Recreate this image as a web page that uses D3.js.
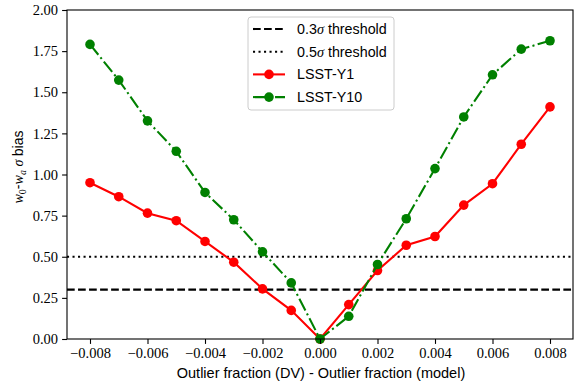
<!DOCTYPE html>
<html>
<head>
<meta charset="utf-8">
<script src="https://cdn.jsdelivr.net/npm/d3@7"></script>
<style>
  body { margin: 0; background: #fff; }
  svg text { fill: #000; }
  .tick text { font-family: "Liberation Serif", serif; font-size: 14.5px; }
</style>
</head>
<body>
<svg id="chart" width="574" height="385"></svg>
<script>
const xs = [-0.008, -0.007, -0.006, -0.005, -0.004, -0.003, -0.002, -0.001, 0,
            0.001, 0.002, 0.003, 0.004, 0.005, 0.006, 0.007, 0.008];
const y1 = [0.950, 0.865, 0.765, 0.719, 0.593, 0.467, 0.305, 0.174, 0.0,
            0.209, 0.416, 0.570, 0.623, 0.814, 0.944, 1.184, 1.411];
const y10 = [1.791, 1.574, 1.326, 1.141, 0.891, 0.725, 0.530, 0.341, 0.0,
             0.138, 0.453, 0.731, 1.036, 1.350, 1.606, 1.762, 1.813];
const thresholds = [0.3, 0.5];
const xTicks = [-0.008, -0.006, -0.004, -0.002, 0, 0.002, 0.004, 0.006, 0.008];
const yTicks = [0, 0.25, 0.5, 0.75, 1.0, 1.25, 1.5, 1.75, 2.0];

const margin = { top: 10, right: 1, bottom: 46, left: 67 },
    width = 574 - margin.left - margin.right,
    height = 385 - margin.top - margin.bottom;

const x = d3.scaleLinear().domain([-0.0088, 0.0088]).range([0, width]);
const y = d3.scaleLinear().domain([0, 2]).range([height, 0]);

const lw = 2.08;
const dashed = "7.7,3.33", dotted = "2.08,3.43", dashdot = "13.3,3.33,2.08,3.33";

const svg = d3.select("#chart");
const g = svg.append("g")
    .attr("transform", "translate(" + margin.left + "," + margin.top + ")");

const fmtX = v => (v < 0 ? "\u2212" : "") + Math.abs(v).toFixed(3);

// threshold lines
g.append("line")
    .attr("x1", 0).attr("x2", width)
    .attr("y1", y(thresholds[0])).attr("y2", y(thresholds[0]))
    .attr("stroke", "#000").attr("stroke-width", lw)
    .attr("stroke-dasharray", dashed);
g.append("line")
    .attr("x1", 0).attr("x2", width)
    .attr("y1", y(thresholds[1])).attr("y2", y(thresholds[1]))
    .attr("stroke", "#000").attr("stroke-width", lw)
    .attr("stroke-dasharray", dotted);

const line = d3.line().x(d => x(d[0])).y(d => y(d[1]));

const series = [
    { name: "LSST-Y1", vals: y1, color: "#ff0000", dash: null },
    { name: "LSST-Y10", vals: y10, color: "#008000", dash: dashdot }
];

series.forEach(s => {
    const pts = xs.map((v, i) => [v, s.vals[i]]);
    g.append("path")
        .datum(pts)
        .attr("fill", "none")
        .attr("stroke", s.color)
        .attr("stroke-width", lw)
        .attr("stroke-dasharray", s.dash)
        .attr("d", line);
    g.selectAll(null)
        .data(pts)
        .enter().append("circle")
        .attr("cx", d => x(d[0]))
        .attr("cy", d => y(d[1]))
        .attr("r", 4.8)
        .attr("fill", s.color);
});

// axes
const xAxis = d3.axisBottom(x).tickValues(xTicks).tickFormat(fmtX).tickSize(4.9).tickPadding(4);
const yAxis = d3.axisLeft(y).tickValues(yTicks).tickFormat(d3.format(".2f")).tickSize(4.9).tickPadding(4);

g.append("g")
    .attr("class", "x axis")
    .attr("transform", "translate(0," + height + ")")
    .call(xAxis);
g.append("g")
    .attr("class", "y axis")
    .call(yAxis);

g.selectAll(".axis .domain").remove();
g.selectAll(".axis line").attr("stroke", "#000").attr("stroke-width", 1.1);

// frame
g.append("rect")
    .attr("width", width).attr("height", height)
    .attr("fill", "none").attr("stroke", "#000").attr("stroke-width", 1.1);

// axis labels
svg.append("text")
    .attr("x", margin.left + width / 2 + 1)
    .attr("y", 378)
    .attr("text-anchor", "middle")
    .attr("font-family", "Liberation Sans, sans-serif")
    .attr("font-size", 14.5)
    .text("Outlier fraction (DV) - Outlier fraction (model)");

const yl = svg.append("text")
    .attr("transform", "translate(23,167) rotate(-90)")
    .attr("text-anchor", "middle")
    .attr("font-size", 14);
yl.append("tspan").attr("font-family", "Liberation Serif, serif").attr("font-style", "italic").text("w");
yl.append("tspan").attr("font-family", "Liberation Serif, serif").attr("font-size", 10).attr("dy", 3).text("0");
yl.append("tspan").attr("font-family", "Liberation Sans, sans-serif").attr("dy", -3).text("-");
yl.append("tspan").attr("font-family", "Liberation Serif, serif").attr("font-style", "italic").text("w");
yl.append("tspan").attr("font-family", "Liberation Serif, serif").attr("font-style", "italic").attr("font-size", 10).attr("dy", 3).text("a");
yl.append("tspan").attr("font-family", "Liberation Serif, serif").attr("font-style", "italic").attr("dy", -3).text(" \u03c3 ");
yl.append("tspan").attr("font-family", "Liberation Sans, sans-serif").text("bias");

// legend
const leg = svg.append("g").attr("transform", "translate(248,17)");
leg.append("rect")
    .attr("width", 146).attr("height", 93)
    .attr("rx", 3)
    .attr("fill", "#fff").attr("fill-opacity", 0.8)
    .attr("stroke", "#ccc").attr("stroke-width", 1);

const legItems = [
    { label: ["0.3", "\u03c3", " threshold"], color: "#000", dash: dashed, marker: false },
    { label: ["0.5", "\u03c3", " threshold"], color: "#000", dash: dotted, marker: false },
    { label: ["LSST-Y1"], color: "#ff0000", dash: null, marker: true },
    { label: ["LSST-Y10"], color: "#008000", dash: dashdot, marker: true }
];

legItems.forEach((it, i) => {
    const ry = 12 + i * 22.7;
    leg.append("line")
        .attr("x1", 5).attr("x2", 37)
        .attr("y1", ry).attr("y2", ry)
        .attr("stroke", it.color).attr("stroke-width", lw)
        .attr("stroke-dasharray", it.dash);
    if (it.marker) {
        leg.append("circle").attr("cx", 21).attr("cy", ry).attr("r", 4.8).attr("fill", it.color);
    }
    const t = leg.append("text")
        .attr("x", 49).attr("y", ry + 5)
        .attr("font-family", "Liberation Sans, sans-serif")
        .attr("font-size", 14.3);
    it.label.forEach((p, j) => {
        const sp = t.append("tspan").text(p);
        if (p === "\u03c3") sp.attr("font-family", "Liberation Serif, serif").attr("font-style", "italic");
    });
});
</script>
</body>
</html>
